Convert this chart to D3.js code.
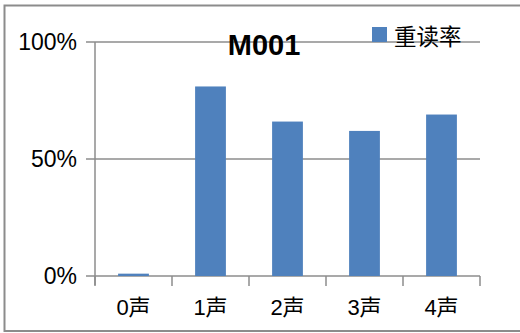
<!DOCTYPE html>
<html><head><meta charset="utf-8">
<script src="https://cdn.jsdelivr.net/npm/d3@7/dist/d3.min.js"></script>
<style>body{margin:0;background:#fff}svg{display:block}</style>
</head><body>
<svg id="c" width="520" height="333"></svg>
<script>
const categories = ["0声", "1声", "2声", "3声", "4声"];
const values = [0.01, 0.81, 0.66, 0.62, 0.69];
const yTicks = [0, 0.5, 1];
const yTickLabels = ["0%", "50%", "100%"];
const title = "M001";
const seriesName = "重读率";

const svg = d3.select("#c");
const m = {left: 95, right: 480, top: 42, bottom: 276};
const gray = "#8c8c8c";
const barColor = "#4f81bd";

// outer frame (right side extends past the window)
svg.append("rect").attr("x", 4.5).attr("y", 5.5).attr("width", 530).attr("height", 325.5)
  .attr("fill", "none").attr("stroke", gray).attr("stroke-width", 2);

const x = d3.scaleBand().domain(categories).range([m.left, m.right]).paddingInner(0.6).paddingOuter(0.3);
const y = d3.scaleLinear().domain([0, 1]).range([m.bottom, m.top]);

// gridlines
svg.append("g").selectAll("line").data(yTicks).join("line")
  .attr("x1", m.left - 9).attr("x2", m.right)
  .attr("y1", d => y(d)).attr("y2", d => y(d))
  .attr("stroke", gray).attr("stroke-width", 1.5);

// y labels
svg.append("g").selectAll("text").data(yTicks).join("text")
  .attr("x", 77).attr("y", d => y(d)).attr("dy", "0.36em")
  .attr("text-anchor", "end").attr("font-family", "Liberation Sans, Arial, sans-serif")
  .attr("font-size", 23).attr("fill", "#000")
  .text((d, i) => yTickLabels[i]);

// y axis line
svg.append("line").attr("x1", m.left).attr("x2", m.left).attr("y1", m.top).attr("y2", m.bottom + 9)
  .attr("stroke", gray).attr("stroke-width", 1.5);

// x tick marks at band boundaries
const step = x.step();
const bounds = d3.range(categories.length + 1).map(i => m.left + i * step);
svg.append("g").selectAll("line").data(bounds).join("line")
  .attr("x1", d => d).attr("x2", d => d).attr("y1", m.bottom).attr("y2", m.bottom + 10)
  .attr("stroke", gray).attr("stroke-width", 1.5);

// bars
svg.append("g").selectAll("rect").data(values).join("rect")
  .attr("x", (d, i) => x(categories[i]))
  .attr("width", x.bandwidth())
  .attr("y", d => y(d))
  .attr("height", d => y(0) - y(d))
  .attr("fill", barColor);

// x labels
svg.append("g").selectAll("text").data(categories).join("text")
  .attr("x", d => x(d) + x.bandwidth() / 2).attr("y", 315)
  .attr("text-anchor", "middle").attr("font-family", "Liberation Sans, 'Noto Sans CJK SC', sans-serif")
  .attr("font-size", 22).attr("fill", "#000")
  .text(d => d);

// title
svg.append("text").attr("x", 264).attr("y", 55).attr("text-anchor", "middle")
  .attr("font-family", "Liberation Sans, Arial, sans-serif").attr("font-weight", "bold")
  .attr("font-size", 29).attr("fill", "#000").text(title);

// legend
svg.append("rect").attr("x", 372).attr("y", 27).attr("width", 15).attr("height", 15).attr("fill", barColor);
svg.append("text").attr("x", 394).attr("y", 45).attr("font-family", "'Noto Sans CJK SC', sans-serif")
  .attr("font-size", 22.5).attr("fill", "#000").text(seriesName);
</script>
</body></html>
